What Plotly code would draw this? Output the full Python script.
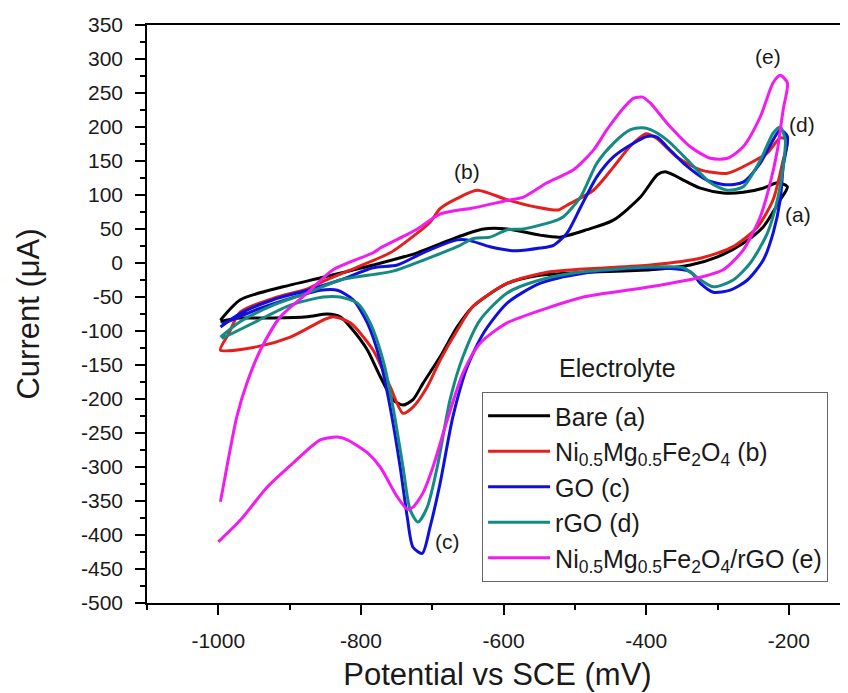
import plotly.graph_objects as go

# ---------------- data (potential mV, current uA) ----------------
bare_x = [-997, -969, -909, -853, -783, -721, -665, -628, -595, -549, -521, -483, -446, -408, -384, -372,
          -348, -324, -292, -264, -236, -216, -202,
          -212, -236, -264, -300, -338, -394, -488, -549, -595, -643, -665, -689, -713, -727, -741, -755,
          -773, -791, -811, -829, -847, -875, -923, -969, -997]
bare_y = [-84, -54, -35, -21, -3, 15, 38, 50, 50, 41, 38, 49, 63, 97, 130, 134,
          122, 110, 103, 104, 110, 118, 112,
          93, 53, 29, 9, -3, -10, -14, -18, -30, -64, -94, -138, -177, -201, -209, -201,
          -167, -128, -99, -79, -75, -79, -81, -81, -86]

nmf_x = [-997, -986, -969, -923, -875, -853, -805, -759, -721, -703, -689, -665, -637, -595, -553, -523,
         -511, -474, -446, -422, -400, -385, -357, -324, -286, -254, -230, -212, -202,
         -208, -222, -244, -278, -324, -394, -535, -595, -643, -665, -689, -707, -727, -741, -759, -783,
         -815, -839, -853, -899, -945, -997]
nmf_y = [-128, -105, -72, -52, -38, -27, -6, 15, 44, 60, 80, 95, 107, 93, 82, 78,
         85, 107, 141, 172, 190, 183, 156, 137, 132, 147, 162, 184, 181,
         151, 93, 53, 24, 7, -3, -13, -30, -64, -99, -143, -182, -212, -221, -182, -128,
         -88, -79, -84, -109, -123, -128]

go_x = [-997, -969, -923, -875, -829, -783, -749, -713, -665, -651, -619, -595, -581, -549, -530, -511,
        -492, -469, -446, -418, -399, -385, -371, -348, -315, -286, -264, -240, -222, -212, -202,
        -208, -212, -222, -236, -258, -282, -306, -324, -338, -394, -488, -549, -595, -628, -651, -671,
        -689, -703, -714, -727, -735, -745, -759, -773, -791, -811, -833, -857, -899, -945, -995]
go_y = [-94, -74, -54, -40, -25, -7, -3, 15, 34, 34, 24, 19, 18, 22, 26, 44,
        82, 127, 156, 176, 186, 185, 171, 147, 122, 115, 119, 147, 181, 196, 186,
        141, 93, 44, 4, -25, -40, -43, -30, -13, -7, -15, -30, -59, -103, -153, -226,
        -324, -388, -427, -418, -374, -300, -212, -143, -88, -54, -40, -40, -52, -68, -90]

rgo_x = [-997, -969, -923, -875, -829, -755, -713, -665, -642, -619, -595, -572, -525, -516, -492, -469,
         -446, -422, -405, -394, -371, -338, -310, -286, -264, -240, -222, -212, -205,
         -208, -216, -230, -254, -278, -306, -329, -348, -394, -488, -549, -595, -633, -657, -675, -693,
         -707, -720, -731, -741, -755, -769, -787, -805, -829, -853, -899, -945, -995]
rgo_y = [-109, -86, -62, -44, -25, -12, 4, 24, 36, 38, 49, 50, 63, 68, 97, 147,
         176, 196, 199, 196, 181, 147, 118, 107, 112, 151, 191, 200, 181,
         141, 93, 44, 0, -25, -35, -21, -7, -6, -13, -25, -44, -84, -138, -201, -300,
         -359, -381, -363, -300, -212, -143, -88, -59, -50, -50, -62, -85, -111]

comp_x = [-997, -988, -974, -960, -941, -913, -875, -839, -783, -773, -735, -721, -689, -643, -595, -572,
          -539, -502, -474, -455, -430, -418, -405, -394, -371, -338, -310, -286, -264, -240, -222, -212, -202,
          -208, -216, -226, -240, -264, -292, -324, -394, -488, -535, -595, -633, -657, -679, -699, -713,
          -727, -735, -749, -773, -791, -819, -833, -857, -895, -931, -969, -1000]
comp_y = [-351, -300, -226, -177, -128, -79, -44, -10, 15, 22, 42, 50, 72, 81, 92, 97,
          118, 137, 166, 196, 230, 242, 244, 235, 206, 171, 154, 154, 171, 215, 265, 276, 265,
          225, 166, 118, 68, 19, -10, -21, -35, -50, -65, -88, -118, -162, -231, -300, -338,
          -359, -362, -344, -300, -279, -260, -256, -260, -294, -329, -378, -410]

series_names = ["Bare (a)",
                "Ni<sub>0.5</sub>Mg<sub>0.5</sub>Fe<sub>2</sub>O<sub>4</sub> (b)",
                "GO (c)",
                "rGO (d)",
                "Ni<sub>0.5</sub>Mg<sub>0.5</sub>Fe<sub>2</sub>O<sub>4</sub>/rGO (e)"]
series_x = [bare_x, nmf_x, go_x, rgo_x, comp_x]
series_y = [bare_y, nmf_y, go_y, rgo_y, comp_y]
series_colors = ["#000000", "#E3201B", "#1010DC", "#158A82", "#F01CF0"]

x_tickvals = [-1000, -800, -600, -400, -200]
x_ticktext = ["-1000", "-800", "-600", "-400", "-200"]
y_tickvals = list(range(-500, 351, 50))
y_ticktext = [str(v) for v in y_tickvals]

label_text = ["(a)", "(b)", "(c)", "(d)", "(e)"]
label_x = [-187, -651, -678, -181, -229]
label_y = [71, 134, -409, 203, 304]

FONT = "Liberation Sans, Arial, sans-serif"
TXT = "#1a1a1a"

fig = go.Figure()
for name, xs, ys, col in zip(series_names, series_x, series_y, series_colors):
    fig.add_trace(go.Scatter(x=xs, y=ys, mode="lines", name=name,
                             line=dict(color=col, width=3, shape="spline", smoothing=0.7)))

for t, lx, ly in zip(label_text, label_x, label_y):
    fig.add_annotation(x=lx, y=ly, text=t, showarrow=False,
                       font=dict(family=FONT, size=21, color=TXT))

fig.add_annotation(xref="paper", yref="paper", x=0.7575, y=0.4066, text="Electrolyte",
                   showarrow=False, font=dict(family=FONT, size=25, color=TXT))

# page body has an 8px margin, so the figure is 8px smaller and margins are offset
fig.update_layout(
    width=840, height=685,
    margin=dict(l=139, r=0, t=17, b=90, autoexpand=False),
    plot_bgcolor="white", paper_bgcolor="white",
    font=dict(family=FONT, color=TXT),
    showlegend=True,
    legend=dict(x=0.478, y=0.365, xanchor="left", yanchor="top",
                bgcolor="white", bordercolor="#666666", borderwidth=1,
                font=dict(family=FONT, size=25, color=TXT), itemwidth=62,
                tracegroupgap=0),
    xaxis=dict(range=[-1100, -117], tickvals=x_tickvals, ticktext=x_ticktext,
               automargin=False,
               ticks="outside", ticklen=10, tickwidth=1.5, tickcolor="black",
               showline=True, linewidth=1.5, linecolor="black", mirror=True,
               showgrid=False, zeroline=False, ticklabelstandoff=8,
               tickfont=dict(family=FONT, size=21, color=TXT),
               minor=dict(dtick=100, tick0=-1100, ticks="outside", ticklen=5, tickwidth=1.5, tickcolor="black"),
               title=dict(text="Potential vs SCE (mV)", font=dict(family=FONT, size=31, color=TXT), standoff=12)),
    yaxis=dict(range=[-500, 350], tickvals=y_tickvals, ticktext=y_ticktext,
               automargin=False,
               ticks="outside", ticklen=10, tickwidth=1.5, tickcolor="black",
               showline=True, linewidth=1.5, linecolor="black", mirror=False,
               showgrid=False, zeroline=False, ticklabelstandoff=8,
               tickfont=dict(family=FONT, size=21, color=TXT),
               minor=dict(dtick=25, tick0=0, ticks="outside", ticklen=5, tickwidth=1.5, tickcolor="black"),
               title=dict(text="Current (μA)", font=dict(family=FONT, size=31, color=TXT), standoff=32)),
)

fig.write_html("out.html")
